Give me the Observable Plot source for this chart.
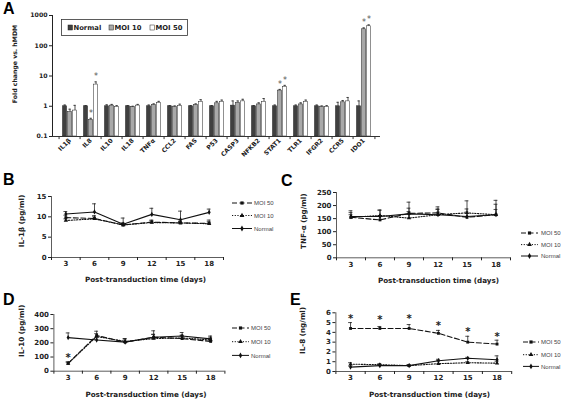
<!DOCTYPE html>
<html><head><meta charset="utf-8">
<script src="https://cdn.jsdelivr.net/npm/d3@7"></script>
<script src="https://cdn.jsdelivr.net/npm/@observablehq/plot@0.6"></script>
<style>
html,body{margin:0;padding:0;background:#fff;}
#root{position:relative;width:567px;height:402px;overflow:hidden;}
.letter{position:absolute;font:bold 16px "Liberation Sans",Arial,sans-serif;color:#000;line-height:1;}
</style></head><body><div id="root"></div>
<script>
// ---------- Panel A data ----------
const genes = ["IL1β","IL8","IL10","IL18","TNFα","CCL2","FAS","P53","CASP3","NFKB2","STAT1","TLR1","IFGR2","CCR5","IDO1"];
const foldNormal    = [1.0, 1.0, 1.0, 1.0, 1.0, 1.0, 1.0, 1.0, 1.05, 1.0, 1.0, 1.0, 1.0, 1.0, 1.0];
const foldNormalErr = [0.1, 0.05,0.12,0.05,0.1, 0.05,0.05,0.05,0.45, 0.05,0.1, 0.1, 0.1, 0.35,0.5];
const foldMoi10     = [0.65,0.35,1.05,0.95,1.1, 0.97,1.1, 1.25,1.3,  1.15,3.3, 1.15,0.97,1.35,350];
const foldMoi10Err  = [0.15,0.05,0.1, 0.05,0.1, 0.05,0.1, 0.2, 0.2,  0.15,0.3, 0.15,0.05,0.2, 40];
const foldMoi50     = [0.72,5.2, 0.95,1.05,1.3, 1.02,1.4, 1.4, 1.45, 1.4, 4.4, 1.4, 0.95,1.45,440];
const foldMoi50Err  = [0.35,1.2, 0.1, 0.1, 0.15,0.15,0.25,0.2, 0.25, 0.4, 0.5, 0.2, 0.1, 0.5, 50];
const sigMoi10 = ["IL8","STAT1","IDO1"];
const sigMoi50 = ["IL8","STAT1","IDO1"];
const foldTicks = [0.1, 1, 10, 100, 1000];

// ---------- Panels B-E data ----------
const days = [3, 6, 9, 12, 15, 18];
// B: IL-1β (pg/ml)
const il1bMoi50 = [9.8, 9.6, 8.0, 8.7, 8.5, 8.4];   const il1bMoi50Err = [0.6, 0.7, 0.4, 0.5, 0.4, 0.8];
const il1bMoi10 = [9.1, 9.5, 8.0, 8.6, 8.5, 8.3];   const il1bMoi10Err = [0.4, 0.5, 0.5, 0.4, 0.4, 0.5];
const il1bNormal = [10.7, 11.2, 8.2, 10.6, 9.3, 11.1]; const il1bNormalErr = [0.6, 2.0, 1.5, 1.5, 2.1, 0.8];
const il1bTicks = [0, 5, 10, 15];
// C: TNF-α (pg/ml)
const tnfMoi50 = [155, 145, 170, 172, 155, 165];  const tnfMoi50Err = [10, 15, 20, 15, 20, 55];
const tnfMoi10 = [155, 162, 152, 165, 172, 165];  const tnfMoi10Err = [25, 20, 25, 20, 15, 40];
const tnfNormal = [158, 158, 168, 165, 158, 165]; const tnfNormalErr = [15, 25, 45, 30, 60, 20];
const tnfTicks = [0, 50, 100, 150, 200, 250];
// D: IL-10 (pg/ml)
const il10Moi50 = [55, 252, 205, 240, 230, 210];  const il10Moi50Err = [10, 30, 25, 45, 20, 15];
const il10Moi10 = [55, 245, 210, 230, 235, 220];  const il10Moi10Err = [10, 20, 20, 30, 20, 20];
const il10Normal = [237, 220, 205, 240, 248, 228]; const il10NormalErr = [33, 15, 15, 20, 25, 20];
const il10Ticks = [0, 100, 200, 300, 400];
const il10SigDays = [3]; const il10SigLevel = [112];
// E: IL-8 (ng/ml)
const il8Moi50 = [4.4, 4.4, 4.4, 3.9, 3.0, 2.8];  const il8Moi50Err = [0.6, 0.2, 0.4, 0.3, 0.6, 0.4];
const il8Moi10 = [0.75, 0.7, 0.6, 0.8, 0.9, 0.85]; const il8Moi10Err = [0.15, 0.1, 0.1, 0.3, 0.1, 0.2];
const il8Normal = [0.45, 0.6, 0.6, 1.1, 1.35, 1.2]; const il8NormalErr = [0.1, 0.1, 0.1, 0.15, 0.1, 0.4];
const il8Ticks = [0, 1, 2, 3, 4, 5, 6];
const il8SigDays = [3, 6, 9, 12, 15, 18]; const il8SigLevel = [5.6, 5.5, 5.6, 4.9, 4.3, 3.8];

const seriesNames = ["MOI 50", "MOI 10", "Normal"];
const seriesStyle = {
  "MOI 50": {dash: "5,2.5", symbol: "square", d3sym: d3.symbolSquare},
  "MOI 10": {dash: "1.2,1.5", symbol: "triangle", d3sym: d3.symbolTriangle},
  "Normal": {dash: null, symbol: "diamond", d3sym: d3.symbolDiamond}
};

const root = document.getElementById("root");
function place(el, left, top) {
  el.style.position = "absolute"; el.style.left = left + "px"; el.style.top = top + "px";
  root.appendChild(el);
}
function letter(t, left, top) {
  const d = document.createElement("div"); d.className = "letter"; d.textContent = t;
  d.style.left = left + "px"; d.style.top = top + "px"; root.appendChild(d);
}

// ---------- Panel A ----------
(function () {
  const W = 392, H = 172, mL = 52, mR = 12, mT = 15, mB = 36;
  const bw = (W - mL - mR) / genes.length;
  const barW = 5;
  const seriesA = [
    {name: "Normal", vals: foldNormal, errs: foldNormalErr, fill: "#404040", sig: []},
    {name: "MOI 10", vals: foldMoi10, errs: foldMoi10Err, fill: "#a9a9a9", sig: sigMoi10},
    {name: "MOI 50", vals: foldMoi50, errs: foldMoi50Err, fill: "#ffffff", sig: sigMoi50}
  ];
  const marks = [];
  seriesA.forEach((s, si) => {
    const rows = genes.map((g, i) => ({gene: g, value: s.vals[i], err: s.errs[i], sig: s.sig.includes(g)}));
    const left = (bw - 3 * barW) / 2 + si * barW;
    const right = bw - left - barW;
    const dx = (si - 1) * barW;
    marks.push(
      Plot.ruleX(rows, {x: "gene", y1: "value", y2: d => d.value + d.err, dx, stroke: "#222", strokeWidth: 0.8}),
      Plot.barY(rows, {x: "gene", y1: 0.1, y2: "value", insetLeft: left, insetRight: right, fill: s.fill, stroke: "#222", strokeWidth: 0.5}),
      Plot.tickY(rows, {x: "gene", y: d => d.value + d.err, insetLeft: left + 1, insetRight: right + 1, stroke: "#222", strokeWidth: 0.8}),
      Plot.text(rows.filter(d => d.sig), {x: "gene", y: d => d.value + d.err, dx, dy: -5, text: () => "*", fontSize: 8, fontWeight: "normal", fill: "#555"})
    );
  });
  marks.push(
    Plot.ruleY([0.1], {stroke: "#333"}),
    Plot.ruleX(genes, {x: d => d, dx: -bw / 2, y1: 0.1, y2: 0.079, stroke: "#333"}),
    Plot.ruleX([genes[genes.length - 1]], {x: d => d, dx: bw / 2, y1: 0.1, y2: 0.079, stroke: "#333"}),
    Plot.text(["Fold change vs. hMDM"], {text: d => d, frameAnchor: "left", textAnchor: "middle", lineAnchor: "middle", rotate: -90, dx: -37, dy: -12, fontSize: 6.2, fontWeight: "bold"})
  );
  const svg = Plot.plot({
    width: W, height: H, marginLeft: mL, marginRight: mR, marginTop: mT, marginBottom: mB,
    style: {background: "transparent", fontFamily: "DejaVu Sans, sans-serif", fontSize: "6.2px", fontWeight: "bold", color: "#222", overflow: "visible"},
    x: {domain: genes, padding: 0, tickRotate: -45, tickSize: 0, tickPadding: 3, label: null},
    y: {type: "log", domain: [0.1, 1000], ticks: foldTicks, tickFormat: d => String(d), tickSize: 3, tickPadding: 2, label: null, line: true},
    marks
  });
  place(svg, 0, 0);

  // legend box
  const ns = "http://www.w3.org/2000/svg";
  const lg = document.createElementNS(ns, "svg");
  lg.setAttribute("width", 130); lg.setAttribute("height", 20);
  const items = [["Normal", "#404040", 7], ["MOI 10", "#a9a9a9", 48], ["MOI 50", "#ffffff", 89]];
  let html = `<rect x="0.5" y="0.5" width="126" height="16" fill="#fff" stroke="#333" stroke-width="0.8"/>`;
  items.forEach(([n, f, x]) => {
    html += `<rect x="${x}" y="6" width="4.5" height="5" fill="${f}" stroke="#222" stroke-width="0.5"/>`;
    html += `<text x="${x + 5.5}" y="11.3" font-family="DejaVu Sans, sans-serif" font-weight="bold" font-size="6.8" fill="#222">${n}</text>`;
  });
  lg.innerHTML = html;
  place(lg, 61, 19);
})();

// ---------- Line panels ----------
function linePanel(cfg) {
  const {left, top, W, H, mL, mR, mT, mB, yTicks, data, yTitle, yt, xt, sigDays, sigLevel, legend} = cfg;
  const bounds = [...days.map(d => d - 1.5), days[days.length - 1] + 1.5];
  const yDomain = [yTicks[0], yTicks[yTicks.length - 1]];
  const marks = [
    Plot.ruleX([bounds[0]], {stroke: "#333", strokeWidth: 0.8}),
    Plot.ruleY([yDomain[0]], {stroke: "#333", strokeWidth: 0.8}),
    Plot.axisY(yTicks, {tickSize: 3, tickPadding: 2, label: null, tickFormat: d => String(d)}),
    Plot.axisX(days, {tickSize: 0, tickPadding: 4, label: null, tickFormat: d => String(d)}),
    Plot.axisX(bounds, {tickSize: 3, tickFormat: () => "", label: null})
  ];
  seriesNames.forEach(name => {
    const st = seriesStyle[name];
    const rows = days.map((d, i) => ({day: d, value: data[name][0][i], err: data[name][1][i]}));
    marks.push(
      Plot.ruleX(rows, {x: "day", y1: "value", y2: d => d.value + d.err, stroke: "#222", strokeWidth: 0.8}),
      Plot.ruleY(rows, {y: d => d.value + d.err, x1: d => d.day - 0.2, x2: d => d.day + 0.2, stroke: "#222", strokeWidth: 0.8}),
      Plot.line(rows, {x: "day", y: "value", stroke: "#111", strokeWidth: 1.1, strokeDasharray: st.dash}),
      Plot.dot(rows, {x: "day", y: "value", symbol: st.symbol, r: 1.6, fill: "#111"})
    );
  });
  if (sigDays) {
    const srows = sigDays.map((d, i) => ({day: d, level: sigLevel[i]}));
    marks.push(Plot.text(srows, {x: "day", y: "level", text: () => "*", fontSize: 10, fontWeight: "bold", dy: 2, fill: "#222"}));
  }
  marks.push(
    Plot.text([yTitle], {text: d => d, frameAnchor: "left", textAnchor: "middle", lineAnchor: "middle", rotate: -90, dx: yt[0], dy: yt[1], fontSize: 7.2, fontWeight: "bold"}),
    Plot.text(["Post-transduction time (days)"], {text: d => d, frameAnchor: "bottom", textAnchor: "middle", lineAnchor: "middle", dx: xt[0], dy: xt[1], fontSize: 7.2, fontWeight: "bold"})
  );
  const svg = Plot.plot({
    width: W, height: H, marginLeft: mL, marginRight: mR, marginTop: mT, marginBottom: mB,
    style: {background: "transparent", fontFamily: "DejaVu Sans, sans-serif", fontSize: "7px", fontWeight: "bold", color: "#222", overflow: "visible"},
    x: {type: "linear", domain: [bounds[0], bounds[bounds.length - 1]]},
    y: {domain: yDomain},
    marks
  });
  place(svg, left, top);

  // legend
  const ns = "http://www.w3.org/2000/svg";
  const lg = document.createElementNS(ns, "svg");
  const lw = 70, lh = legend.ys[2] - legend.ys[0] + 12;
  lg.setAttribute("width", lw); lg.setAttribute("height", lh);
  let html = "";
  seriesNames.forEach((name, i) => {
    const st = seriesStyle[name];
    const y = legend.ys[i] - legend.ys[0] + 6;
    html += `<line x1="0" x2="${legend.len}" y1="${y}" y2="${y}" stroke="#111" stroke-width="1"${st.dash ? ` stroke-dasharray="${st.dash}"` : ""}/>`;
    html += `<path transform="translate(${legend.len / 2},${y})" d="${d3.symbol(st.d3sym, 10)()}" fill="#111"/>`;
    html += `<text x="${legend.tx}" y="${y + 2.1}" font-family="Liberation Sans, Arial, sans-serif" font-size="6" fill="#444">${name}</text>`;
  });
  lg.innerHTML = html;
  place(lg, legend.x, legend.ys[0] - 6);
}

linePanel({
  left: 0, top: 180, W: 230, H: 110, mL: 51, mR: 7, mT: 16, mB: 33,
  yTicks: il1bTicks,
  data: {"MOI 50": [il1bMoi50, il1bMoi50Err], "MOI 10": [il1bMoi10, il1bMoi10Err], "Normal": [il1bNormal, il1bNormalErr]},
  yTitle: "IL-1β (pg/ml)", yt: [-29.5, -6], xt: [8, 22.5],
  legend: {x: 232, len: 20, tx: 22, ys: [202.5, 215, 228]}
});
linePanel({
  left: 280, top: 180, W: 240, H: 110, mL: 56, mR: 10, mT: 12, mB: 32.7,
  yTicks: tnfTicks,
  data: {"MOI 50": [tnfMoi50, tnfMoi50Err], "MOI 10": [tnfMoi10, tnfMoi10Err], "Normal": [tnfNormal, tnfNormalErr]},
  yTitle: "TNF-α (pg/ml)", yt: [-32.7, -4], xt: [15, 22.7],
  legend: {x: 521, len: 17, tx: 20, ys: [232.7, 244.3, 255.7]}
});
linePanel({
  left: 0, top: 290, W: 235, H: 112, mL: 53.4, mR: 10.6, mT: 24, mB: 31.3,
  yTicks: il10Ticks,
  data: {"MOI 50": [il10Moi50, il10Moi50Err], "MOI 10": [il10Moi10, il10Moi10Err], "Normal": [il10Normal, il10NormalErr]},
  yTitle: "IL-10 (pg/ml)", yt: [-32.4, -12], xt: [6.6, 23.3],
  sigDays: il10SigDays, sigLevel: il10SigLevel,
  legend: {x: 232, len: 17, tx: 19, ys: [328.3, 342, 355.7]}
});
linePanel({
  left: 280, top: 290, W: 240, H: 112, mL: 55.4, mR: 8.8, mT: 22.3, mB: 31,
  yTicks: il8Ticks,
  data: {"MOI 50": [il8Moi50, il8Moi50Err], "MOI 10": [il8Moi10, il8Moi10Err], "Normal": [il8Normal, il8NormalErr]},
  yTitle: "IL-8 (ng/ml)", yt: [-32.9, -11.7], xt: [5.7, 23],
  sigDays: il8SigDays, sigLevel: il8SigLevel,
  legend: {x: 523, len: 16, tx: 18, ys: [342.3, 355, 366.7]}
});

letter("A", 3, 1);
letter("B", 3, 172);
letter("C", 281, 173);
letter("D", 3, 292);
letter("E", 290, 292);
</script>
</body></html>
